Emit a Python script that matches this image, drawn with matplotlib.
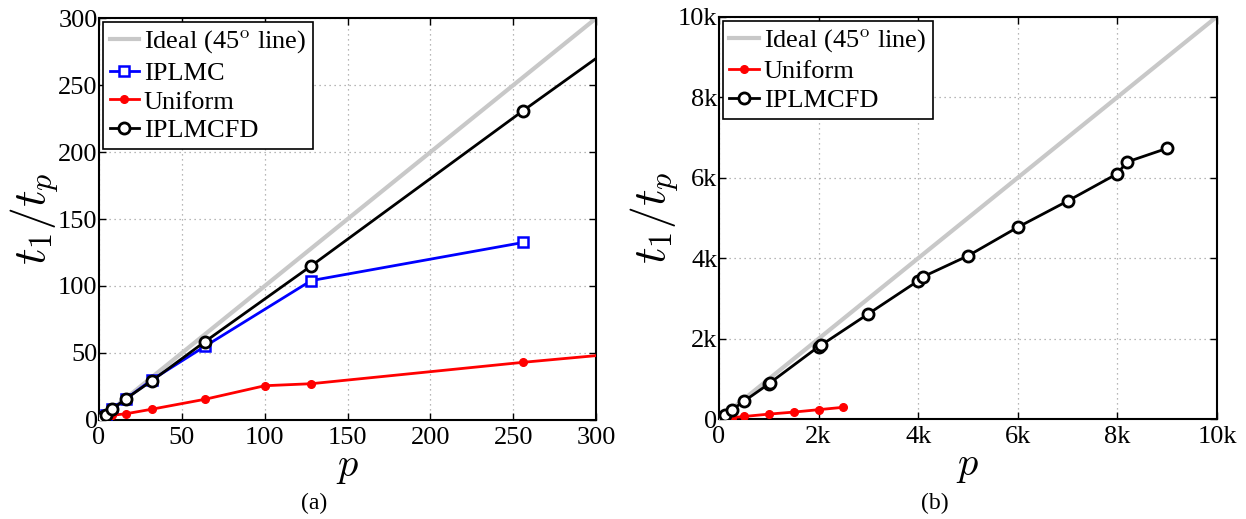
import matplotlib
matplotlib.use("Agg")
import matplotlib.pyplot as plt
from matplotlib.ticker import FixedLocator, FuncFormatter

plt.rcParams['font.family'] = ['Liberation Serif', 'DejaVu Serif']
plt.rcParams['mathtext.fontset'] = 'cm'

# Speedup data: processors p and measured speedup t1/tp
ideal_p = [0, 10000]

iplmc_p = [1, 2, 4, 8, 16, 32, 64, 128, 256]
iplmc_s = [1, 2, 4, 8, 15.5, 30, 55, 104, 132.5]

uniform_p = [1, 8, 16, 32, 64, 100, 128, 256, 512, 1000, 1500, 2000, 2500]
uniform_s = [1, 3.5, 4.5, 8, 15.4, 25.5, 27, 43, 72, 130, 180, 240, 300]

fd_p = [1, 2, 4, 8, 16, 32, 64, 128, 256, 512, 1000, 1024, 2000, 2048,
        3000, 4000, 4096, 5000, 6000, 7000, 8000, 8192, 9000]
fd_s = [1, 2, 4, 8, 15.6, 29.3, 58.5, 115, 231, 458, 880, 905, 1805, 1840,
        2620, 3440, 3540, 4060, 4770, 5420, 6100, 6390, 6730]

left_ticks = [0, 50, 100, 150, 200, 250, 300]
right_ticks = [0, 2000, 4000, 6000, 8000, 10000]
right_labels = ['0', '2k', '4k', '6k', '8k', '10k']

fig = plt.figure(figsize=(12.46, 5.19), dpi=100)
ax1 = fig.add_axes([0.0795, 0.191, 0.399, 0.774])
ax2 = fig.add_axes([0.577, 0.192, 0.3997, 0.776])

ideal_kw = dict(color='#c8c8c8', lw=3.0, label='Ideal (45$^{\\rm o}$ line)', zorder=2)
blue_kw = dict(color='#0000ff', lw=2.0, marker='s', ms=6.5, mfc='white', mew=1.8,
               label='IPLMC', zorder=3)
red_kw = dict(color='#ff0000', lw=2.0, marker='o', ms=5.5, mfc='#ff0000', mew=1,
              label='Uniform', zorder=3)
black_kw = dict(color='black', lw=2.0, marker='o', ms=8, mfc='white', mew=2.0,
                label='IPLMCFD', zorder=4)

# (a) small processor counts
ax1.plot(ideal_p, ideal_p, **ideal_kw)
ax1.plot(iplmc_p, iplmc_s, **blue_kw)
ax1.plot(uniform_p, uniform_s, **red_kw)
ax1.plot(fd_p, fd_s, **black_kw)
ax1.set_xlim(0, 300)
ax1.set_ylim(0, 300)
ax1.xaxis.set_major_locator(FixedLocator(left_ticks))
ax1.yaxis.set_major_locator(FixedLocator(left_ticks))

# (b) full range
ax2.plot(ideal_p, ideal_p, **ideal_kw)
ax2.plot(uniform_p, uniform_s, **red_kw)
ax2.plot(fd_p, fd_s, **black_kw)
ax2.set_xlim(0, 10000)
ax2.set_ylim(0, 10000)
ax2.xaxis.set_major_locator(FixedLocator(right_ticks))
ax2.yaxis.set_major_locator(FixedLocator(right_ticks))
fmt = FuncFormatter(lambda v, pos: right_labels[right_ticks.index(int(round(v)))]
                    if int(round(v)) in right_ticks else '')
ax2.xaxis.set_major_formatter(fmt)
ax2.yaxis.set_major_formatter(fmt)

for ax in (ax1, ax2):
    ax.grid(True, color='#a0a0a0', ls=(0, (1, 3)), lw=0.9)
    ax.tick_params(direction='in', top=True, right=True, labelsize=19,
                   length=5, width=1.0)
    ax.tick_params(axis='x', pad=5)
    ax.tick_params(axis='y', pad=1)
    for s in ax.spines.values():
        s.set_linewidth(1.5)
    ax.set_xlabel('$p$', fontsize=29, labelpad=0)
    ax.set_ylabel('$t_1/t_p$', fontsize=33, labelpad=-2)
    leg = ax.legend(loc='upper left', fontsize=19, frameon=True, fancybox=False,
                    edgecolor='black', handlelength=1.1, handletextpad=0.2,
                    borderpad=0.25, labelspacing=0.2, borderaxespad=0.15)
    leg.get_frame().set_linewidth(1.2)
    leg.get_frame().set_alpha(1)

fig.text(0.252, 0.029, '(a)', ha='center', va='center', fontsize=17)
fig.text(0.750, 0.029, '(b)', ha='center', va='center', fontsize=17)

fig.savefig('out.png', dpi=100)
